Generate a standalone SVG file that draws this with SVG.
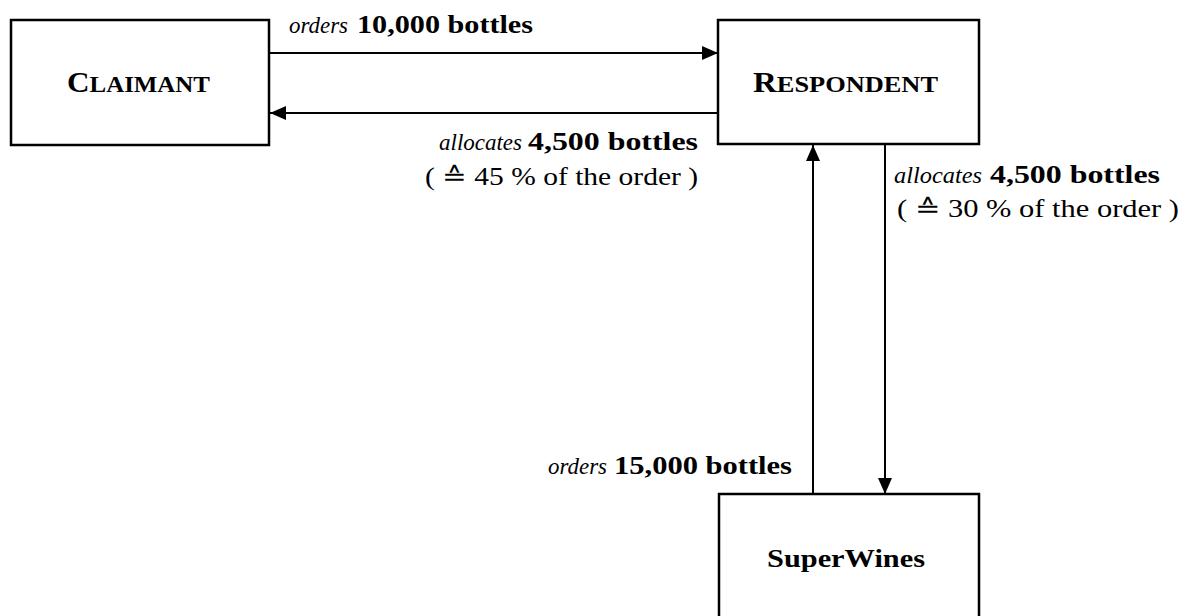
<svg xmlns="http://www.w3.org/2000/svg" width="1187" height="616" viewBox="0 0 1187 616" font-family="Liberation Serif, Times New Roman, serif">
<style>
.box{fill:#fff;stroke:#000;stroke-width:2.5}
.ln{stroke:#000;stroke-width:2;fill:none;marker-end:url(#ah)}
text{font-family:'Liberation Serif','Times New Roman',serif;fill:#000}
.it{font-style:italic;font-size:24px}
.bd{font-weight:bold;font-size:25px}
.rg{font-size:25px}
.nm{font-weight:bold}
</style>
<defs>
<marker id="ah" markerUnits="userSpaceOnUse" markerWidth="16" markerHeight="14" refX="16" refY="7" orient="auto">
<path d="M0,0 L16,7 L0,14 z" fill="#000"/>
</marker>
</defs>
<rect width="1187" height="616" fill="#fff"/>
<g id="claimant">
<rect class="box" x="11" y="20" width="258" height="125"/>
<text class="nm" x="67" y="92" textLength="143" lengthAdjust="spacingAndGlyphs"><tspan font-size="30">C</tspan><tspan font-size="24">LAIMANT</tspan></text>
</g>
<g id="respondent">
<rect class="box" x="718" y="20" width="261" height="124"/>
<text class="nm" x="753" y="92" textLength="185" lengthAdjust="spacingAndGlyphs"><tspan font-size="30">R</tspan><tspan font-size="24">ESPONDENT</tspan></text>
</g>
<g id="superwines">
<rect class="box" x="719" y="494" width="260" height="200"/>
<text class="nm" x="767" y="567" font-size="26" textLength="158" lengthAdjust="spacingAndGlyphs">SuperWines</text>
</g>
<g id="connectors">
<line class="ln" x1="270" y1="53" x2="718" y2="53"/>
<line class="ln" x1="718" y1="113" x2="270" y2="113"/>
<line class="ln" x1="813" y1="494" x2="813" y2="145"/>
<line class="ln" x1="885" y1="145" x2="885" y2="494"/>
</g>
<g id="labels">
<text class="it" x="289" y="33" textLength="59" lengthAdjust="spacingAndGlyphs">orders</text>
<text class="bd" x="357" y="33" textLength="176" lengthAdjust="spacingAndGlyphs">10,000 bottles</text>
<text class="it" x="439" y="150" textLength="83" lengthAdjust="spacingAndGlyphs">allocates</text>
<text class="bd" x="528" y="150" textLength="170" lengthAdjust="spacingAndGlyphs">4,500 bottles</text>
<text class="rg" x="425" y="185" textLength="273" lengthAdjust="spacingAndGlyphs">( ≙ 45 % of the order )</text>
<text class="it" x="894" y="183" textLength="88" lengthAdjust="spacingAndGlyphs">allocates</text>
<text class="bd" x="990" y="183" textLength="170" lengthAdjust="spacingAndGlyphs">4,500 bottles</text>
<text class="rg" x="897" y="217" textLength="282" lengthAdjust="spacingAndGlyphs">( ≙ 30 % of the order )</text>
<text class="it" x="548" y="474" textLength="59" lengthAdjust="spacingAndGlyphs">orders</text>
<text class="bd" x="614" y="474" textLength="178" lengthAdjust="spacingAndGlyphs">15,000 bottles</text>
</g>
</svg>
